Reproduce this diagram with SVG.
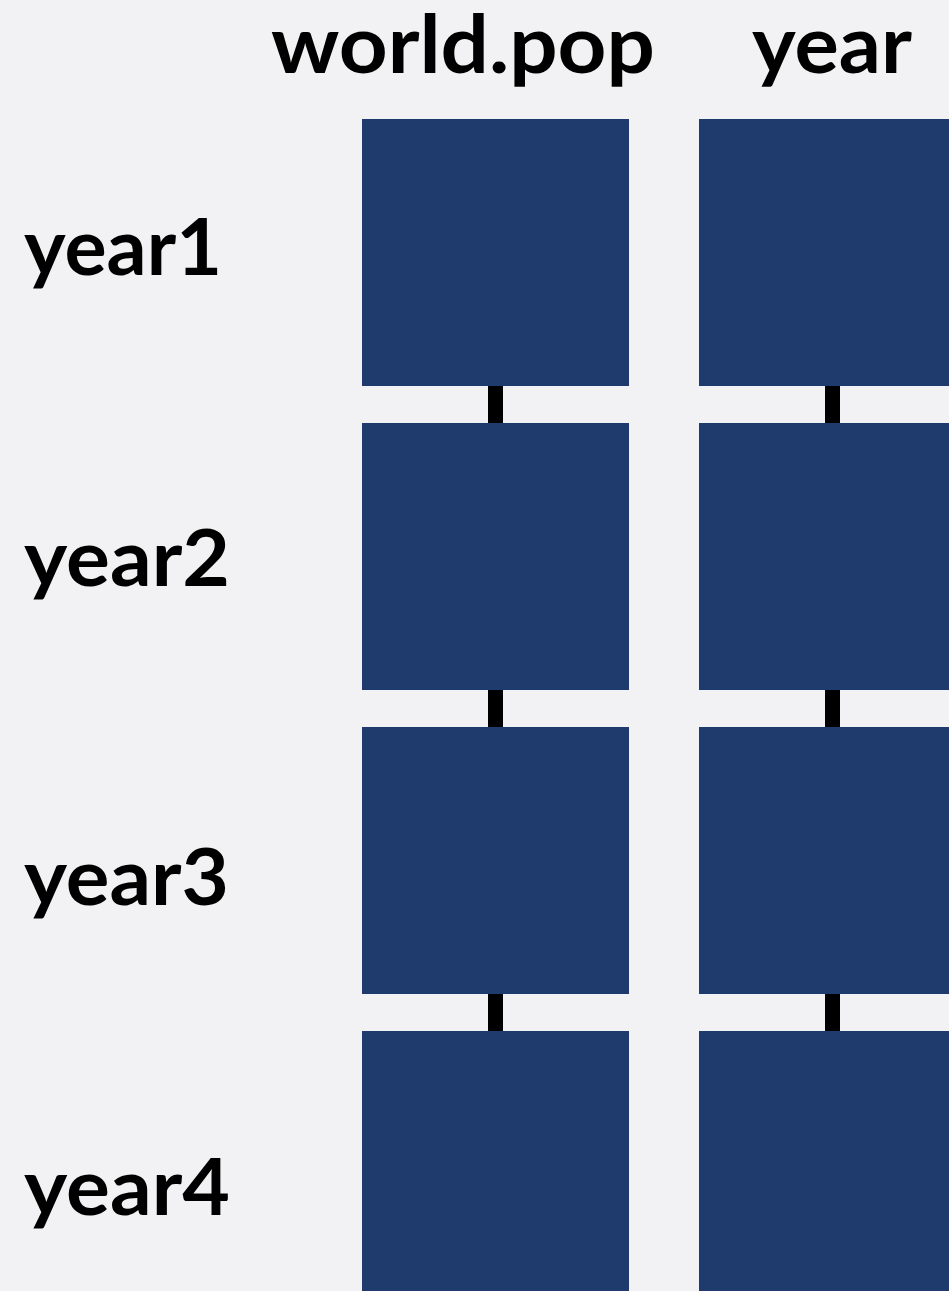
<svg xmlns="http://www.w3.org/2000/svg" width="949" height="1291" viewBox="0 0 949 1291">
<style>
.bg{fill:#f2f2f4}
.box{fill:#1f3b6d}
.lbl{font-family:Lato,"Noto Sans",sans-serif;font-weight:bold;font-size:78px;fill:#000}
.hdr{font-family:Lato,"Noto Sans",sans-serif;font-weight:bold;font-size:80px;fill:#000}
.con{stroke:#000;stroke-width:15;fill:none}
</style>
<rect class="bg" x="0" y="0" width="949" height="1291"/>
<g id="headers">
<text class="hdr" x="271" y="73" textLength="384" lengthAdjust="spacingAndGlyphs">world.pop</text>
<text class="hdr" x="752" y="73" textLength="160" lengthAdjust="spacingAndGlyphs">year</text>
</g>
<g id="row-labels">
<text class="lbl" x="24" y="275" textLength="198" lengthAdjust="spacingAndGlyphs">year1</text>
<text class="lbl" x="24" y="586" textLength="206" lengthAdjust="spacingAndGlyphs">year2</text>
<text class="lbl" x="24" y="905" textLength="205" lengthAdjust="spacingAndGlyphs">year3</text>
<text class="lbl" x="24" y="1215" textLength="206" lengthAdjust="spacingAndGlyphs">year4</text>
</g>
<g id="connectors">
<line class="con" x1="495.5" y1="386" x2="495.5" y2="423"/>
<line class="con" x1="495.5" y1="690" x2="495.5" y2="727"/>
<line class="con" x1="495.5" y1="994" x2="495.5" y2="1031"/>
<line class="con" x1="832.5" y1="386" x2="832.5" y2="423"/>
<line class="con" x1="832.5" y1="690" x2="832.5" y2="727"/>
<line class="con" x1="832.5" y1="994" x2="832.5" y2="1031"/>
</g>
<g id="node-pop-1"><rect class="box" x="362" y="119" width="267" height="267"/></g>
<g id="node-pop-2"><rect class="box" x="362" y="423" width="267" height="267"/></g>
<g id="node-pop-3"><rect class="box" x="362" y="727" width="267" height="267"/></g>
<g id="node-pop-4"><rect class="box" x="362" y="1031" width="267" height="267"/></g>
<g id="node-year-1"><rect class="box" x="699" y="119" width="267" height="267"/></g>
<g id="node-year-2"><rect class="box" x="699" y="423" width="267" height="267"/></g>
<g id="node-year-3"><rect class="box" x="699" y="727" width="267" height="267"/></g>
<g id="node-year-4"><rect class="box" x="699" y="1031" width="267" height="267"/></g>
</svg>
